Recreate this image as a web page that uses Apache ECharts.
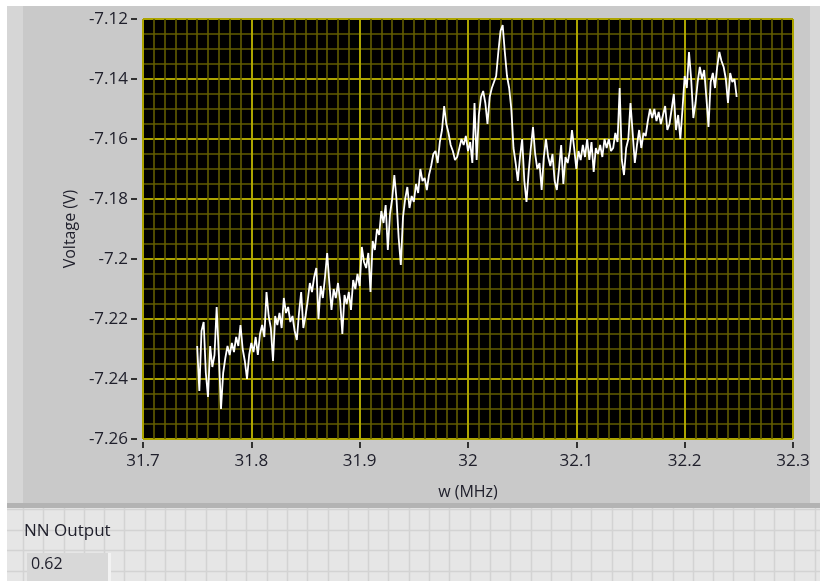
<!DOCTYPE html>
<html>
<head>
<meta charset="utf-8">
<script src="https://cdn.jsdelivr.net/npm/echarts@6/dist/echarts.min.js"></script>
<style>
html,body{margin:0;padding:0;background:#fff;}
#chart{width:820px;height:581px;}
</style>
</head>
<body>
<div id="chart"></div>
<script>
// Sweep frequency (MHz): waveform start and step
const freqStart = 31.75;
const freqStep = 0.002;

const voltage = [
  -7.229, -7.244, -7.224, -7.221, -7.238, -7.246, -7.229, -7.236, -7.232, -7.216,
  -7.232, -7.250, -7.238, -7.233, -7.229, -7.232, -7.228, -7.231, -7.226, -7.229,
  -7.222, -7.230, -7.234, -7.240, -7.232, -7.228, -7.231, -7.226, -7.232, -7.225,
  -7.222, -7.226, -7.211, -7.219, -7.223, -7.234, -7.219, -7.222, -7.218, -7.223,
  -7.213, -7.218, -7.216, -7.221, -7.219, -7.224, -7.227, -7.218, -7.211, -7.223,
  -7.219, -7.214, -7.208, -7.211, -7.206, -7.203, -7.220, -7.209, -7.213, -7.206,
  -7.198, -7.208, -7.217, -7.210, -7.213, -7.208, -7.214, -7.225, -7.212, -7.215,
  -7.211, -7.217, -7.207, -7.210, -7.205, -7.209, -7.196, -7.201, -7.203, -7.198,
  -7.211, -7.194, -7.197, -7.190, -7.192, -7.184, -7.188, -7.182, -7.197, -7.185,
  -7.180, -7.172, -7.180, -7.193, -7.202, -7.186, -7.180, -7.176, -7.183, -7.179,
  -7.181, -7.175, -7.178, -7.170, -7.174, -7.173, -7.177, -7.172, -7.169, -7.165,
  -7.164, -7.168, -7.161, -7.157, -7.149, -7.155, -7.158, -7.162, -7.164, -7.167,
  -7.166, -7.163, -7.160, -7.162, -7.159, -7.164, -7.161, -7.168, -7.148, -7.167,
  -7.152, -7.146, -7.144, -7.148, -7.155, -7.146, -7.143, -7.141, -7.139, -7.131,
  -7.124, -7.122, -7.131, -7.139, -7.143, -7.150, -7.163, -7.168, -7.174, -7.166,
  -7.160, -7.174, -7.181, -7.171, -7.163, -7.156, -7.165, -7.170, -7.168, -7.177,
  -7.166, -7.160, -7.166, -7.169, -7.165, -7.174, -7.177, -7.170, -7.162, -7.175,
  -7.166, -7.168, -7.164, -7.157, -7.163, -7.170, -7.164, -7.167, -7.162, -7.166,
  -7.160, -7.167, -7.161, -7.171, -7.163, -7.165, -7.162, -7.166, -7.160, -7.163,
  -7.160, -7.164, -7.163, -7.158, -7.161, -7.143, -7.167, -7.172, -7.163, -7.160,
  -7.148, -7.158, -7.168, -7.162, -7.157, -7.163, -7.158, -7.159, -7.154, -7.150,
  -7.153, -7.150, -7.154, -7.151, -7.155, -7.152, -7.149, -7.157, -7.155, -7.150,
  -7.145, -7.157, -7.152, -7.160, -7.150, -7.139, -7.143, -7.131, -7.140, -7.153,
  -7.148, -7.141, -7.136, -7.140, -7.137, -7.146, -7.156, -7.141, -7.138, -7.143,
  -7.136, -7.131, -7.134, -7.136, -7.140, -7.148, -7.138, -7.141, -7.140, -7.146
];

// Axis scales
const xTicks = [31.7, 31.8, 31.9, 32, 32.1, 32.2, 32.3];
const yTicks = [-7.26, -7.24, -7.22, -7.2, -7.18, -7.16, -7.14, -7.12];

// Labels
const xTitle = 'w (MHz)';
const yTitle = 'Voltage (V)';
const indicatorLabel = 'NN Output';
const indicatorValue = '0.62';

const points = voltage.map((v, i) => [+(freqStart + i * freqStep).toFixed(4), v]);

const FONT = "'Open Sans', 'DejaVu Sans', sans-serif";
const TXT = '#20202c';

// decorative background pieces (panel + lower front-panel grid)
const deco = [];
deco.push({type:'rect', shape:{x:7,y:6,width:813,height:502}, style:{fill:'#c9c9c9'}, z:-20});
deco.push({type:'rect', shape:{x:7,y:6,width:16,height:502}, style:{fill:'#d6d6d6'}, z:-19});
deco.push({type:'rect', shape:{x:810,y:6,width:10,height:502}, style:{fill:'#d8d8d8'}, z:-19});
deco.push({type:'rect', shape:{x:7,y:503,width:813,height:5}, style:{fill:'#b3b3b3'}, z:-19});
deco.push({type:'rect', shape:{x:7,y:508,width:813,height:73}, style:{fill:'#e6e6e6'}, z:-20});
for (let gx = 23; gx < 820; gx += 20.3) {
  deco.push({type:'line', shape:{x1:Math.round(gx)+0.5,y1:508,x2:Math.round(gx)+0.5,y2:581}, style:{stroke:'#d3d3d3',lineWidth:1.5}, z:-18});
}
for (let gy = 509; gy < 581; gy += 20.5) {
  deco.push({type:'line', shape:{x1:7,y1:Math.round(gy)+0.5,x2:820,y2:Math.round(gy)+0.5}, style:{stroke:'#d3d3d3',lineWidth:1.5}, z:-18});
}
deco.push({type:'rect', shape:{x:27,y:553,width:83,height:28}, style:{fill:'#d8d8d8'}, z:-17});
deco.push({type:'rect', shape:{x:108,y:553,width:3,height:28}, style:{fill:'#f2f2f2'}, z:-16});
deco.push({type:'text', left:24, top:523, style:{text:indicatorLabel, font:"17px "+FONT, fill:TXT}, z:5});
deco.push({type:'text', left:31, top:556, style:{text:indicatorValue, font:"16px "+FONT, fill:TXT}, z:5});

const chart = echarts.init(document.getElementById('chart'), null, {renderer:'canvas'});
chart.setOption({
  backgroundColor: '#ffffff',
  animation: false,
  graphic: deco,
  grid: {
    left: 143, top: 19, width: 650, height: 420,
    show: true, backgroundColor: '#000000', borderColor: '#5a5a5a', borderWidth: 1
  },
  xAxis: {
    type: 'value',
    min: xTicks[0], max: xTicks[xTicks.length-1], interval: 0.1,
    offset: 3,
    name: xTitle, nameLocation: 'middle', nameGap: 42,
    nameTextStyle: {fontFamily: FONT, fontSize: 16, color: TXT},
    axisLine: {show: false},
    axisTick: {show: true, length: 6, lineStyle: {color: '#333', width: 2}},
    axisLabel: {margin: 11, fontFamily: FONT, fontSize: 17, color: TXT,
      formatter: v => String(parseFloat(v.toFixed(1)))},
    splitLine: {show: true, lineStyle: {color: '#aca400', width: 2}},
    minorTick: {show: false, splitNumber: 10},
    minorSplitLine: {show: true, lineStyle: {color: '#625d00', width: 1.6}}
  },
  yAxis: {
    type: 'value',
    min: yTicks[0], max: yTicks[yTicks.length-1], interval: 0.02,
    offset: 6,
    name: yTitle, nameLocation: 'middle', nameGap: 56, nameRotate: 90,
    nameTextStyle: {fontFamily: FONT, fontSize: 16, color: TXT},
    axisLine: {show: false},
    axisTick: {show: true, length: 6, lineStyle: {color: '#333', width: 2}},
    axisLabel: {margin: 9, fontFamily: FONT, fontSize: 17, color: TXT,
      formatter: v => String(parseFloat(v.toFixed(2)))},
    splitLine: {show: true, lineStyle: {color: '#aca400', width: 2}},
    minorTick: {show: false, splitNumber: 4},
    minorSplitLine: {show: true, lineStyle: {color: '#625d00', width: 1.6}}
  },
  series: [{
    type: 'line',
    data: points,
    showSymbol: false,
    symbol: 'none',
    lineStyle: {color: '#ffffff', width: 1.8},
    z: 5
  }]
});
</script>
</body>
</html>
